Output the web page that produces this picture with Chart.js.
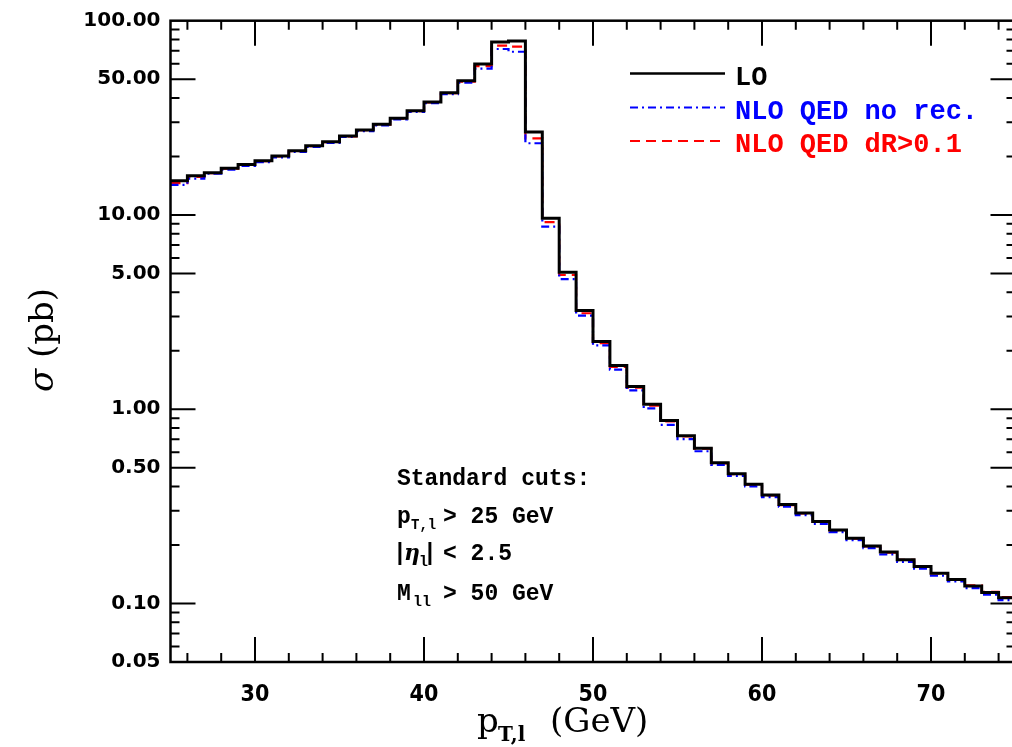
<!DOCTYPE html>
<html>
<head>
<meta charset="utf-8">
<script src="https://cdn.jsdelivr.net/npm/chart.js@4.4.1/dist/chart.umd.min.js"></script>
<style>
  html, body { margin: 0; padding: 0; background: #fff; overflow: hidden; }
  #wrap { width: 1018px; height: 747px; }
</style>
</head>
<body>
<div id="wrap"><canvas id="chart" width="1018" height="747"></canvas></div>
<script>
// bordes de los bins (GeV)
const binEdges = [25,26,27,28,29,30,31,32,33,34,35,36,37,38,39,40,41,42,43,44,45,46,47,48,49,50,
                  51,52,53,54,55,56,57,58,59,60,61,62,63,64,65,66,67,68,69,70,71,72,73,74,75];

// sigma por bin (pb)
const loVals = [15.0,15.9,16.5,17.4,18.2,19.0,20.1,21.4,22.7,23.8,25.5,27.4,29.3,31.5,34.4,38.2,42.6,49.1,59.8,77.7,
                78.6,26.7,9.62,5.07,3.22,2.23,1.68,1.31,1.06,0.874,0.731,0.630,0.530,0.466,0.411,0.362,0.323,0.292,0.264,0.239,
                0.217,0.198,0.184,0.168,0.155,0.143,0.133,0.123,0.114,0.107];
const noRecVals = [14.3,15.4,16.3,17.1,17.9,18.7,19.8,21.1,22.4,23.5,25.2,27.0,28.9,31.0,33.9,37.6,41.9,48.0,56.6,71.5,
                69.2,23.4,8.72,4.68,3.03,2.13,1.60,1.25,1.01,0.830,0.702,0.608,0.517,0.454,0.401,0.353,0.315,0.285,0.257,0.233,
                0.212,0.193,0.179,0.164,0.151,0.139,0.130,0.120,0.111,0.104];
const dRVals = [14.6,15.7,16.4,17.3,18.1,18.9,20.0,21.3,22.6,23.7,25.4,27.3,29.2,31.3,34.2,38.0,42.4,48.6,58.4,74.4,
                73.5,24.8,9.18,4.91,3.12,2.19,1.65,1.29,1.044,0.865,0.724,0.627,0.527,0.464,0.409,0.360,0.321,0.291,0.263,0.238,
                0.216,0.197,0.183,0.168,0.155,0.143,0.133,0.124,0.115,0.108];

const seriesLabels = ['LO', 'NLO QED no rec.', 'NLO QED dR>0.1'];
const seriesColors = ['#000000', '#0000ff', '#ff0000'];

const yTickVals = [0.05, 0.1, 0.5, 1, 5, 10, 50, 100];
const xTickVals = [30, 40, 50, 60, 70];

// histograma: un punto por borde izquierdo + el borde final
function histPoints(vals) {
    const pts = vals.map((v, i) => ({ x: binEdges[i], y: v }));
    pts.push({ x: binEdges[binEdges.length - 1], y: vals[vals.length - 1] });
    return pts;
}

const MONO = '"Liberation Mono", "DejaVu Sans Mono", monospace';
const SERIF = '"DejaVu Serif", "Liberation Serif", serif';

// marco, ticks hacia dentro, leyenda y textos
const framePlugin = {
    id: 'frame',
    afterDraw(chart) {
        const { ctx, chartArea: a, scales: { x, y } } = chart;
        ctx.save();
        ctx.strokeStyle = '#000';
        ctx.lineWidth = 2.5;
        ctx.strokeRect(a.left, a.top, a.right - a.left, a.bottom - a.top);

        ctx.lineWidth = 2;
        ctx.beginPath();
        [0.01, 0.1, 1, 10].forEach(dec => {
            for (let m = 1; m <= 9; m++) {
                const v = m * dec;
                if (v <= 0.05 + 1e-9 || v >= 100 - 1e-9) continue;
                const len = (m === 1 || m === 5) ? 25 : 9;
                const py = y.getPixelForValue(v);
                ctx.moveTo(a.left, py); ctx.lineTo(a.left + len, py);
                ctx.moveTo(a.right, py); ctx.lineTo(a.right - len, py);
            }
        });
        for (let v = 26; v <= 74; v += 2) {
            const len = (v % 10 === 0) ? 25 : 9;
            const px = x.getPixelForValue(v);
            ctx.moveTo(px, a.bottom); ctx.lineTo(px, a.bottom - len);
            ctx.moveTo(px, a.top); ctx.lineTo(px, a.top + len);
        }
        ctx.stroke();

        // leyenda
        const legY = [73.5, 107.5, 141];
        const dashes = [[], [8, 4, 2, 4], [10, 6]];
        const widths = [2.5, 2.2, 2.2];
        seriesLabels.forEach((lab, i) => {
            ctx.beginPath();
            ctx.setLineDash(dashes[i]);
            ctx.lineWidth = widths[i];
            ctx.strokeStyle = seriesColors[i];
            ctx.moveTo(630, legY[i]); ctx.lineTo(725, legY[i]);
            ctx.stroke();
            ctx.setLineDash([]);
            ctx.fillStyle = seriesColors[i];
            ctx.font = 'bold 27px ' + MONO;
            ctx.textAlign = 'left';
            ctx.textBaseline = 'alphabetic';
            ctx.fillText(lab, 735, legY[i] + 11);
        });

        // cortes
        ctx.fillStyle = '#000';
        ctx.font = 'bold 23px ' + MONO;
        ctx.fillText('Standard cuts:', 397, 485);
        ctx.fillText('p', 397, 523);
        ctx.font = 'bold 14px ' + MONO;
        ctx.fillText('T,l', 411, 529);
        ctx.font = 'bold 23px ' + MONO;
        ctx.fillText('> 25 GeV', 443, 523);

        ctx.fillText('|', 393, 560);
        ctx.font = 'italic bold 22px ' + SERIF;
        ctx.fillText('\u03b7', 404, 560);
        ctx.font = 'bold 15px ' + MONO;
        ctx.fillText('l', 419, 566);
        ctx.font = 'bold 23px ' + MONO;
        ctx.fillText('|', 423, 560);
        ctx.fillText('< 2.5', 443, 560);

        ctx.fillText('M', 397, 600);
        ctx.font = 'bold 15px ' + MONO;
        ctx.fillText('ll', 413, 606);
        ctx.font = 'bold 23px ' + MONO;
        ctx.fillText('> 50 GeV', 443, 600);

        // titulo eje x
        ctx.font = '34px ' + SERIF;
        ctx.fillText('p', 477, 732);
        ctx.font = 'bold 20px ' + SERIF;
        ctx.fillText('T,l', 498, 741);
        ctx.font = '34px ' + SERIF;
        ctx.fillText('(GeV)', 550, 732);

        // titulo eje y
        ctx.save();
        ctx.translate(53, 340);
        ctx.rotate(-Math.PI / 2);
        ctx.font = 'italic 34px ' + SERIF;
        const w1 = ctx.measureText('\u03c3 ').width;
        ctx.font = '34px ' + SERIF;
        const w2 = ctx.measureText('(pb)').width;
        let sx = -(w1 + w2) / 2;
        ctx.font = 'italic 34px ' + SERIF;
        ctx.fillText('\u03c3', sx, 0);
        ctx.font = '34px ' + SERIF;
        ctx.fillText('(pb)', sx + w1, 0);
        ctx.restore();

        ctx.restore();
    }
};

new Chart(document.getElementById('chart'), {
    type: 'line',
    data: {
        datasets: [
            { label: seriesLabels[0], data: histPoints(loVals), borderColor: seriesColors[0],
              borderWidth: 3, stepped: true, pointRadius: 0, fill: false },
            { label: seriesLabels[1], data: histPoints(noRecVals), borderColor: seriesColors[1],
              borderWidth: 2.2, borderDash: [8, 4, 2, 4], stepped: true, pointRadius: 0, fill: false },
            { label: seriesLabels[2], data: histPoints(dRVals), borderColor: seriesColors[2],
              borderWidth: 2.2, borderDash: [10, 6], stepped: true, pointRadius: 0, fill: false }
        ]
    },
    options: {
        responsive: false,
        animation: false,
        devicePixelRatio: 1,
        layout: { padding: { left: 0, right: 2.5, top: 20.7, bottom: 0 } },
        plugins: { legend: { display: false }, tooltip: { enabled: false } },
        scales: {
            x: {
                type: 'linear', min: 25, max: 75,
                grid: { display: false }, border: { display: false },
                afterBuildTicks: s => { s.ticks = xTickVals.map(v => ({ value: v })); },
                afterFit: s => { s.height = 85; },
                ticks: {
                    color: '#000', padding: 11, maxRotation: 0, autoSkip: false,
                    font: { family: '"Liberation Sans Narrow", "DejaVu Sans Condensed", "DejaVu Sans", sans-serif', size: 23, weight: 'bold' }
                }
            },
            y: {
                type: 'logarithmic', min: 0.05, max: 100,
                grid: { display: false }, border: { display: false },
                afterBuildTicks: s => { s.ticks = yTickVals.map(v => ({ value: v })); },
                afterFit: s => { s.width = 170.5; },
                ticks: {
                    color: '#000', padding: 2, autoSkip: false,
                    callback: v => Number(v).toFixed(2),
                    font: { family: '"DejaVu Sans", sans-serif', size: 20, weight: 'bold' }
                }
            }
        }
    },
    plugins: [framePlugin]
});
</script>
</body>
</html>
